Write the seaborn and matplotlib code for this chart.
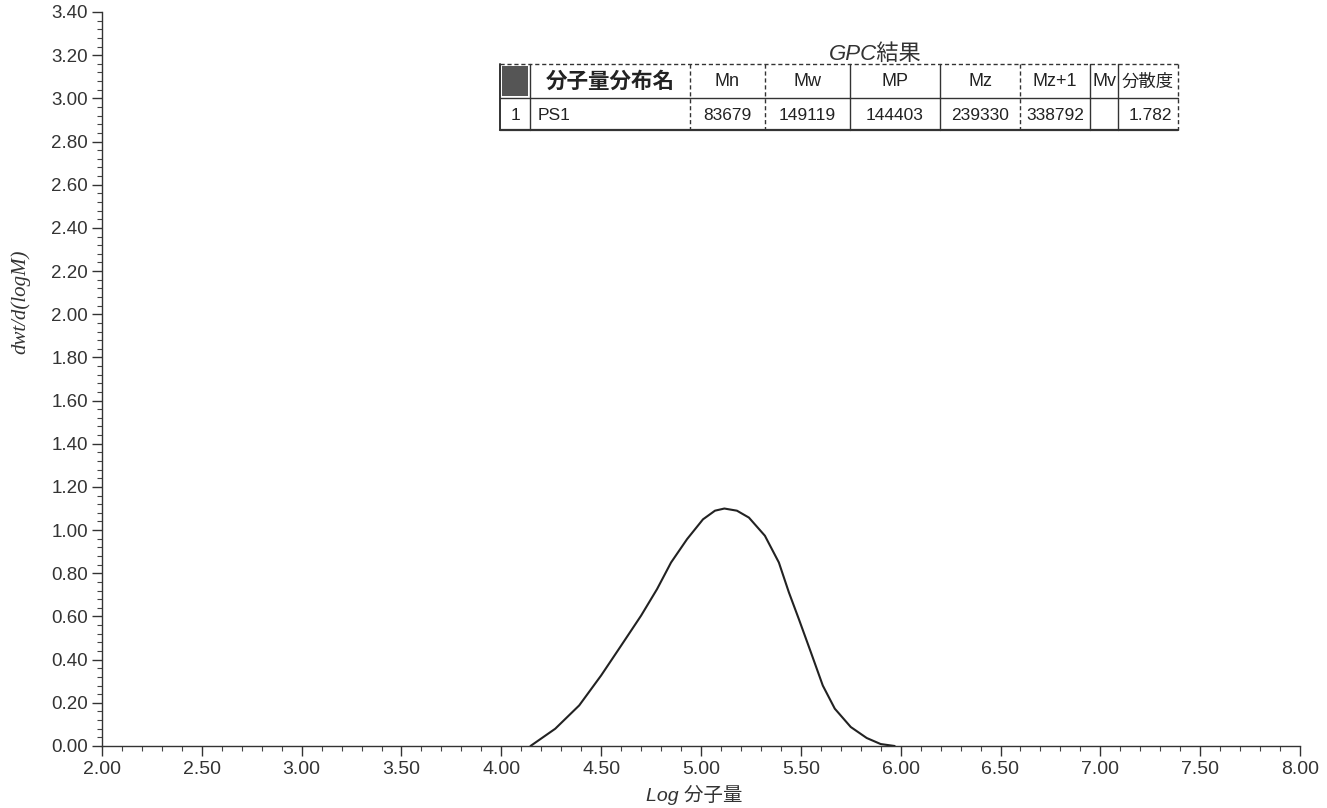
import numpy as np
import pandas as pd
import matplotlib
matplotlib.use("Agg")
import matplotlib.pyplot as plt
from matplotlib.lines import Line2D
from matplotlib.patches import Rectangle
from matplotlib.ticker import MultipleLocator, FormatStrFormatter
import seaborn as sns

# ---- data ----
log_m = [4.146, 4.27, 4.39, 4.50, 4.60, 4.70, 4.78, 4.85, 4.93, 5.01, 5.07, 5.117,
         5.18, 5.24, 5.32, 5.39, 5.44, 5.49, 5.55, 5.61, 5.67, 5.75, 5.83, 5.90, 5.97]
dwt = [0.0, 0.080, 0.188, 0.327, 0.465, 0.604, 0.727, 0.850, 0.958, 1.050, 1.090, 1.100,
       1.090, 1.058, 0.974, 0.850, 0.712, 0.588, 0.435, 0.280, 0.173, 0.088, 0.037, 0.009, 0.0]

table_title = "GPC結果"
col_names = ["", "分子量分布名", "Mn", "Mw", "MP", "Mz", "Mz+1", "Mv", "分散度"]
row_values = ["1", "PS1", "83679", "149119", "144403", "239330", "338792", "", "1.782"]

x_label = "Log 分子量"
y_label = "dwt/d(logM)"

sns.set_theme(style="white")
plt.rcParams['font.family'] = ['Liberation Sans', 'Noto Sans CJK JP', 'DejaVu Sans']

W, H = 1327, 808
fig = plt.figure(figsize=(W / 100, H / 100), dpi=100)
fig.patch.set_facecolor("white")
ax = fig.add_axes([102 / W, 1 - 746 / H, 1198 / W, (746 - 12) / H])
ax.set_facecolor("white")

df = pd.DataFrame({"logM": log_m, "dwt": dwt})
sns.lineplot(data=df, x="logM", y="dwt", ax=ax, color="#222222", linewidth=1.5)
ax.lines[0].set_solid_joinstyle("round")

ax.set_xlim(2.0, 8.0)
ax.set_ylim(0.0, 3.4)
ax.xaxis.set_major_locator(MultipleLocator(0.5))
ax.xaxis.set_minor_locator(MultipleLocator(0.1))
ax.yaxis.set_major_locator(MultipleLocator(0.2))
ax.yaxis.set_minor_locator(MultipleLocator(0.04))
ax.xaxis.set_major_formatter(FormatStrFormatter("%.2f"))
ax.yaxis.set_major_formatter(FormatStrFormatter("%.2f"))
ax.tick_params(which="major", direction="out", length=7, width=1.0, color="#333333",
               labelcolor="#333333", bottom=True, left=True)
ax.tick_params(axis="x", which="major", labelsize=14, pad=4)
ax.tick_params(axis="y", which="major", labelsize=13.5, pad=3)
ax.tick_params(which="minor", direction="out", length=3.5, width=0.8, color="#444444",
               bottom=True, left=True)
for s in ["top", "right"]:
    ax.spines[s].set_visible(False)
for s in ["left", "bottom"]:
    ax.spines[s].set_color("#333333")
    ax.spines[s].set_linewidth(1.0)
ax.set_xlabel("")
ax.set_ylabel("")

fig.text(694 / W, 1 - 795 / H, x_label, ha="center", va="center", fontsize=14,
         style="italic", color="#333333")
fig.text(20 / W, 1 - 302 / H, y_label, ha="center", va="center", fontsize=15,
         style="italic", rotation=90, color="#333333", family=['Liberation Serif', 'DejaVu Serif'])

# ---- GPC result table (figure pixel layout) ----
def fx(x):
    return x / W

def fy(y):
    return 1 - y / H

edges = [500, 530, 690, 765, 850, 940, 1020, 1090, 1118, 1178]
y_top, y_mid, y_bot = 64, 98, 130

def hline(x0, x1, y, ls="-", lw=1.2):
    fig.add_artist(Line2D([fx(x0), fx(x1)], [fy(y), fy(y)], transform=fig.transFigure,
                          color="#333333", lw=lw, ls=ls))

def vline(x, y0, y1, ls="-", lw=1.2):
    fig.add_artist(Line2D([fx(x), fx(x)], [fy(y0), fy(y1)], transform=fig.transFigure,
                          color="#333333", lw=lw, ls=ls))

hline(edges[0], edges[-1], y_top, ls=(0, (3, 2)), lw=1.0)
hline(edges[0], edges[-1], y_mid, lw=1.0)
hline(edges[0], edges[-1], y_bot, lw=1.6)
vline(edges[0], y_top, y_bot, lw=1.4)
vline(edges[-1], y_top, y_bot, ls=(0, (3, 2)), lw=1.0)
for i, x in enumerate(edges[1:-1], start=1):
    ls = (0, (3, 2)) if i in (2, 3, 6) else "-"
    vline(x, y_top, y_bot, ls=ls, lw=1.0)

fig.add_artist(Rectangle((fx(edges[0] + 2), fy(y_mid - 2)), (edges[1] - edges[0] - 4) / W,
                         (y_mid - y_top - 4) / H, transform=fig.transFigure,
                         facecolor="#555555", edgecolor="none"))

for i, name in enumerate(col_names):
    if not name:
        continue
    cx = (edges[i] + edges[i + 1]) / 2
    if i == 1:
        fs, wt = 15.5, "bold"
    elif i == len(col_names) - 1:
        fs, wt = 12.5, "normal"
    else:
        fs, wt = 13, "normal"
    fig.text(fx(cx), fy((y_top + y_mid) / 2 + 1), name, ha="center", va="center",
             fontsize=fs, color="#222222", weight=wt)

for i, val in enumerate(row_values):
    if not val:
        continue
    yc = fy((y_mid + y_bot) / 2 + 1)
    if i == 1:
        fig.text(fx(edges[i] + 8), yc, val, ha="left", va="center", fontsize=12.5, color="#222222")
    elif i == len(row_values) - 1:
        fig.text(fx(edges[i + 1] - 6), yc, val, ha="right", va="center", fontsize=12.5,
                 color="#222222")
    else:
        cx = (edges[i] + edges[i + 1]) / 2
        fig.text(fx(cx), yc, val, ha="center", va="center", fontsize=12.5, color="#222222")

fig.text(fx(875), fy(54), table_title, ha="center", va="center", fontsize=16,
         style="italic", color="#333333")

fig.savefig("out.png", dpi=100, facecolor="white")
